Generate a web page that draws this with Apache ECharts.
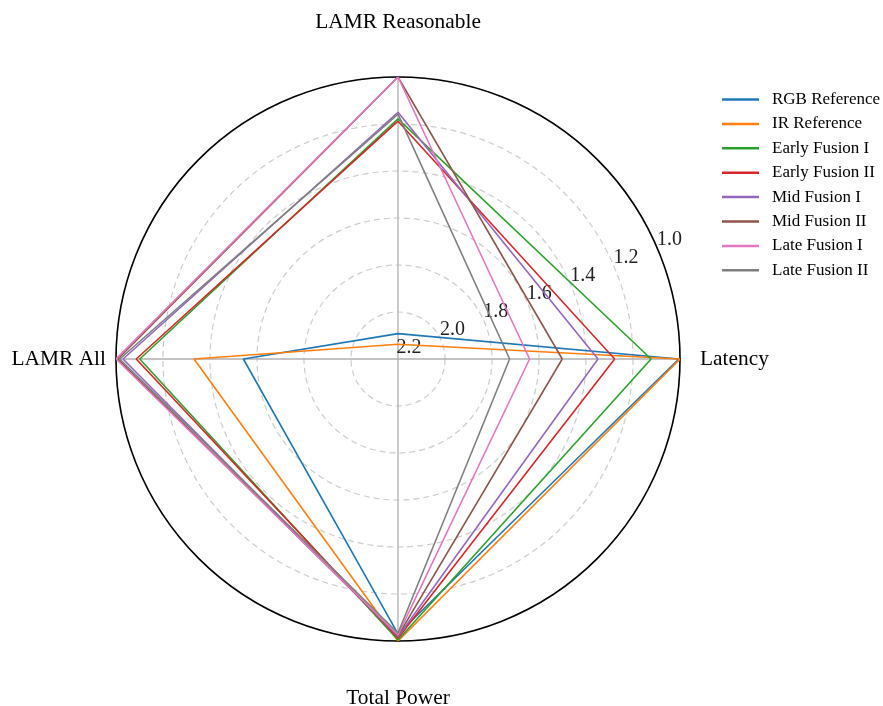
<!DOCTYPE html>
<html>
<head>
<meta charset="utf-8">
<script src="https://cdn.jsdelivr.net/npm/echarts@6/dist/echarts.min.js"></script>
<style>
  html, body { margin: 0; padding: 0; background: #fff; }
  #chart { width: 883px; height: 706px; }
</style>
</head>
<body>
<div id="chart"></div>
<script>
// Metric axes, counter-clockwise from the right
const metrics = ['Latency', 'LAMR Reasonable', 'LAMR All', 'Total Power'];

// Radial tick values (normalised score; 1.0 is best, on the rim)
const radialTicks = [1.0, 1.2, 1.4, 1.6, 1.8, 2.0, 2.2];

// Normalised values per model, in the order of `metrics`
const rgbReference  = [1.005, 2.092, 1.542, 1.030];
const irReference   = [1.000, 2.137, 1.332, 1.000];
const earlyFusionI  = [1.123, 1.178, 1.101, 1.004];
const earlyFusionII = [1.278, 1.188, 1.086, 1.012];
const midFusionI    = [1.349, 1.150, 1.030, 1.018];
const midFusionII   = [1.501, 1.000, 1.008, 1.022];
const lateFusionI   = [1.640, 1.000, 1.000, 1.026];
const lateFusionII  = [1.725, 1.158, 1.016, 1.034];

const seriesNames = ['RGB Reference', 'IR Reference', 'Early Fusion I', 'Early Fusion II',
                     'Mid Fusion I', 'Mid Fusion II', 'Late Fusion I', 'Late Fusion II'];
const seriesValues = [rgbReference, irReference, earlyFusionI, earlyFusionII,
                      midFusionI, midFusionII, lateFusionI, lateFusionII];
const palette = ['#1f77b4', '#ff7f0e', '#2ca02c', '#d62728',
                 '#9467bd', '#8c564b', '#e377c2', '#7f7f7f'];

const FONT = 'Liberation Serif';
const CX = 398, CY = 359, R = 282;
const STEP = 360 / metrics.length;   // angular spacing of the metric spokes

// Closed polygon: [radius, angle] pairs, one spoke per metric, back to the start
function toPolygon(vals) {
  const pts = metrics.map((m, i) => [vals[i], i * STEP]);
  pts.push([vals[0], 360]);
  return pts;
}

// Per-spoke label styles (extra padding pushes top/bottom names further out)
const labelFont = { fontFamily: FONT, fontSize: 21.4, color: '#000' };
const spokeRich = {
  s0: Object.assign({ padding: [0, 0, 0, 10] }, labelFont),
  s1: Object.assign({ padding: [0, 0, 34, 0] }, labelFont),
  s2: Object.assign({ padding: [0, 0, 0, 0] }, labelFont),
  s3: Object.assign({ padding: [37, 0, 0, 0] }, labelFont)
};

const chart = echarts.init(document.getElementById('chart'));

chart.setOption({
  backgroundColor: '#ffffff',
  animation: false,
  polar: [
    { center: [CX, CY], radius: R },
    // second frame only carries the radial tick labels at 22.5 degrees
    { center: [CX + 11, CY - 11], radius: R }
  ],
  angleAxis: [
    {
      polarIndex: 0,
      type: 'value',
      min: 0,
      max: 360,
      interval: STEP,
      startAngle: 0,
      clockwise: false,
      axisLine: { show: true, lineStyle: { color: '#000', width: 1.6 } },
      axisTick: { show: false },
      axisLabel: {
        show: true,
        margin: 10,
        fontFamily: FONT,
        fontSize: 21.4,
        color: '#000',
        formatter: v => {
          const i = Math.round(v / STEP);
          return i < metrics.length ? '{s' + i + '|' + metrics[i] + '}' : '';
        },
        rich: spokeRich
      },
      splitLine: { show: true, lineStyle: { color: '#b0b0b0', width: 1.3, type: 'solid' } }
    },
    {
      polarIndex: 1,
      type: 'value',
      min: 0,
      max: 360,
      startAngle: 22.5,
      show: false
    }
  ],
  radiusAxis: [
    {
      polarIndex: 0,
      type: 'value',
      min: radialTicks[0],
      max: radialTicks[radialTicks.length - 1],
      interval: 0.2,
      inverse: true,
      axisLine: { show: false },
      axisTick: { show: false },
      axisLabel: { show: false },
      splitLine: { show: true, lineStyle: { color: '#cccccc', width: 1.2, type: [6, 4] } }
    },
    {
      polarIndex: 1,
      type: 'value',
      min: radialTicks[0],
      max: radialTicks[radialTicks.length - 1],
      interval: 0.2,
      inverse: true,
      axisLine: { show: false },
      axisTick: { show: false },
      splitLine: { show: false },
      axisLabel: {
        show: true,
        margin: 0,
        align: 'center',
        verticalAlign: 'middle',
        color: '#222',
        fontFamily: FONT,
        fontSize: 20,
        showMinLabel: true,
        showMaxLabel: true,
        formatter: v => v.toFixed(1)
      }
    }
  ],
  legend: {
    orient: 'vertical',
    left: 717,
    top: 86,
    itemWidth: 37,
    itemHeight: 2.5,
    itemGap: 7.4,
    icon: 'rect',
    data: seriesNames,
    textStyle: { fontFamily: FONT, fontSize: 17, color: '#000', padding: [0, 0, 0, 8] }
  },
  series: seriesNames.map((name, i) => ({
    name: name,
    type: 'line',
    coordinateSystem: 'polar',
    polarIndex: 0,
    clip: false,
    symbol: 'none',
    color: palette[i],
    lineStyle: { color: palette[i], width: 1.6 },
    data: toPolygon(seriesValues[i])
  }))
});
</script>
</body>
</html>
